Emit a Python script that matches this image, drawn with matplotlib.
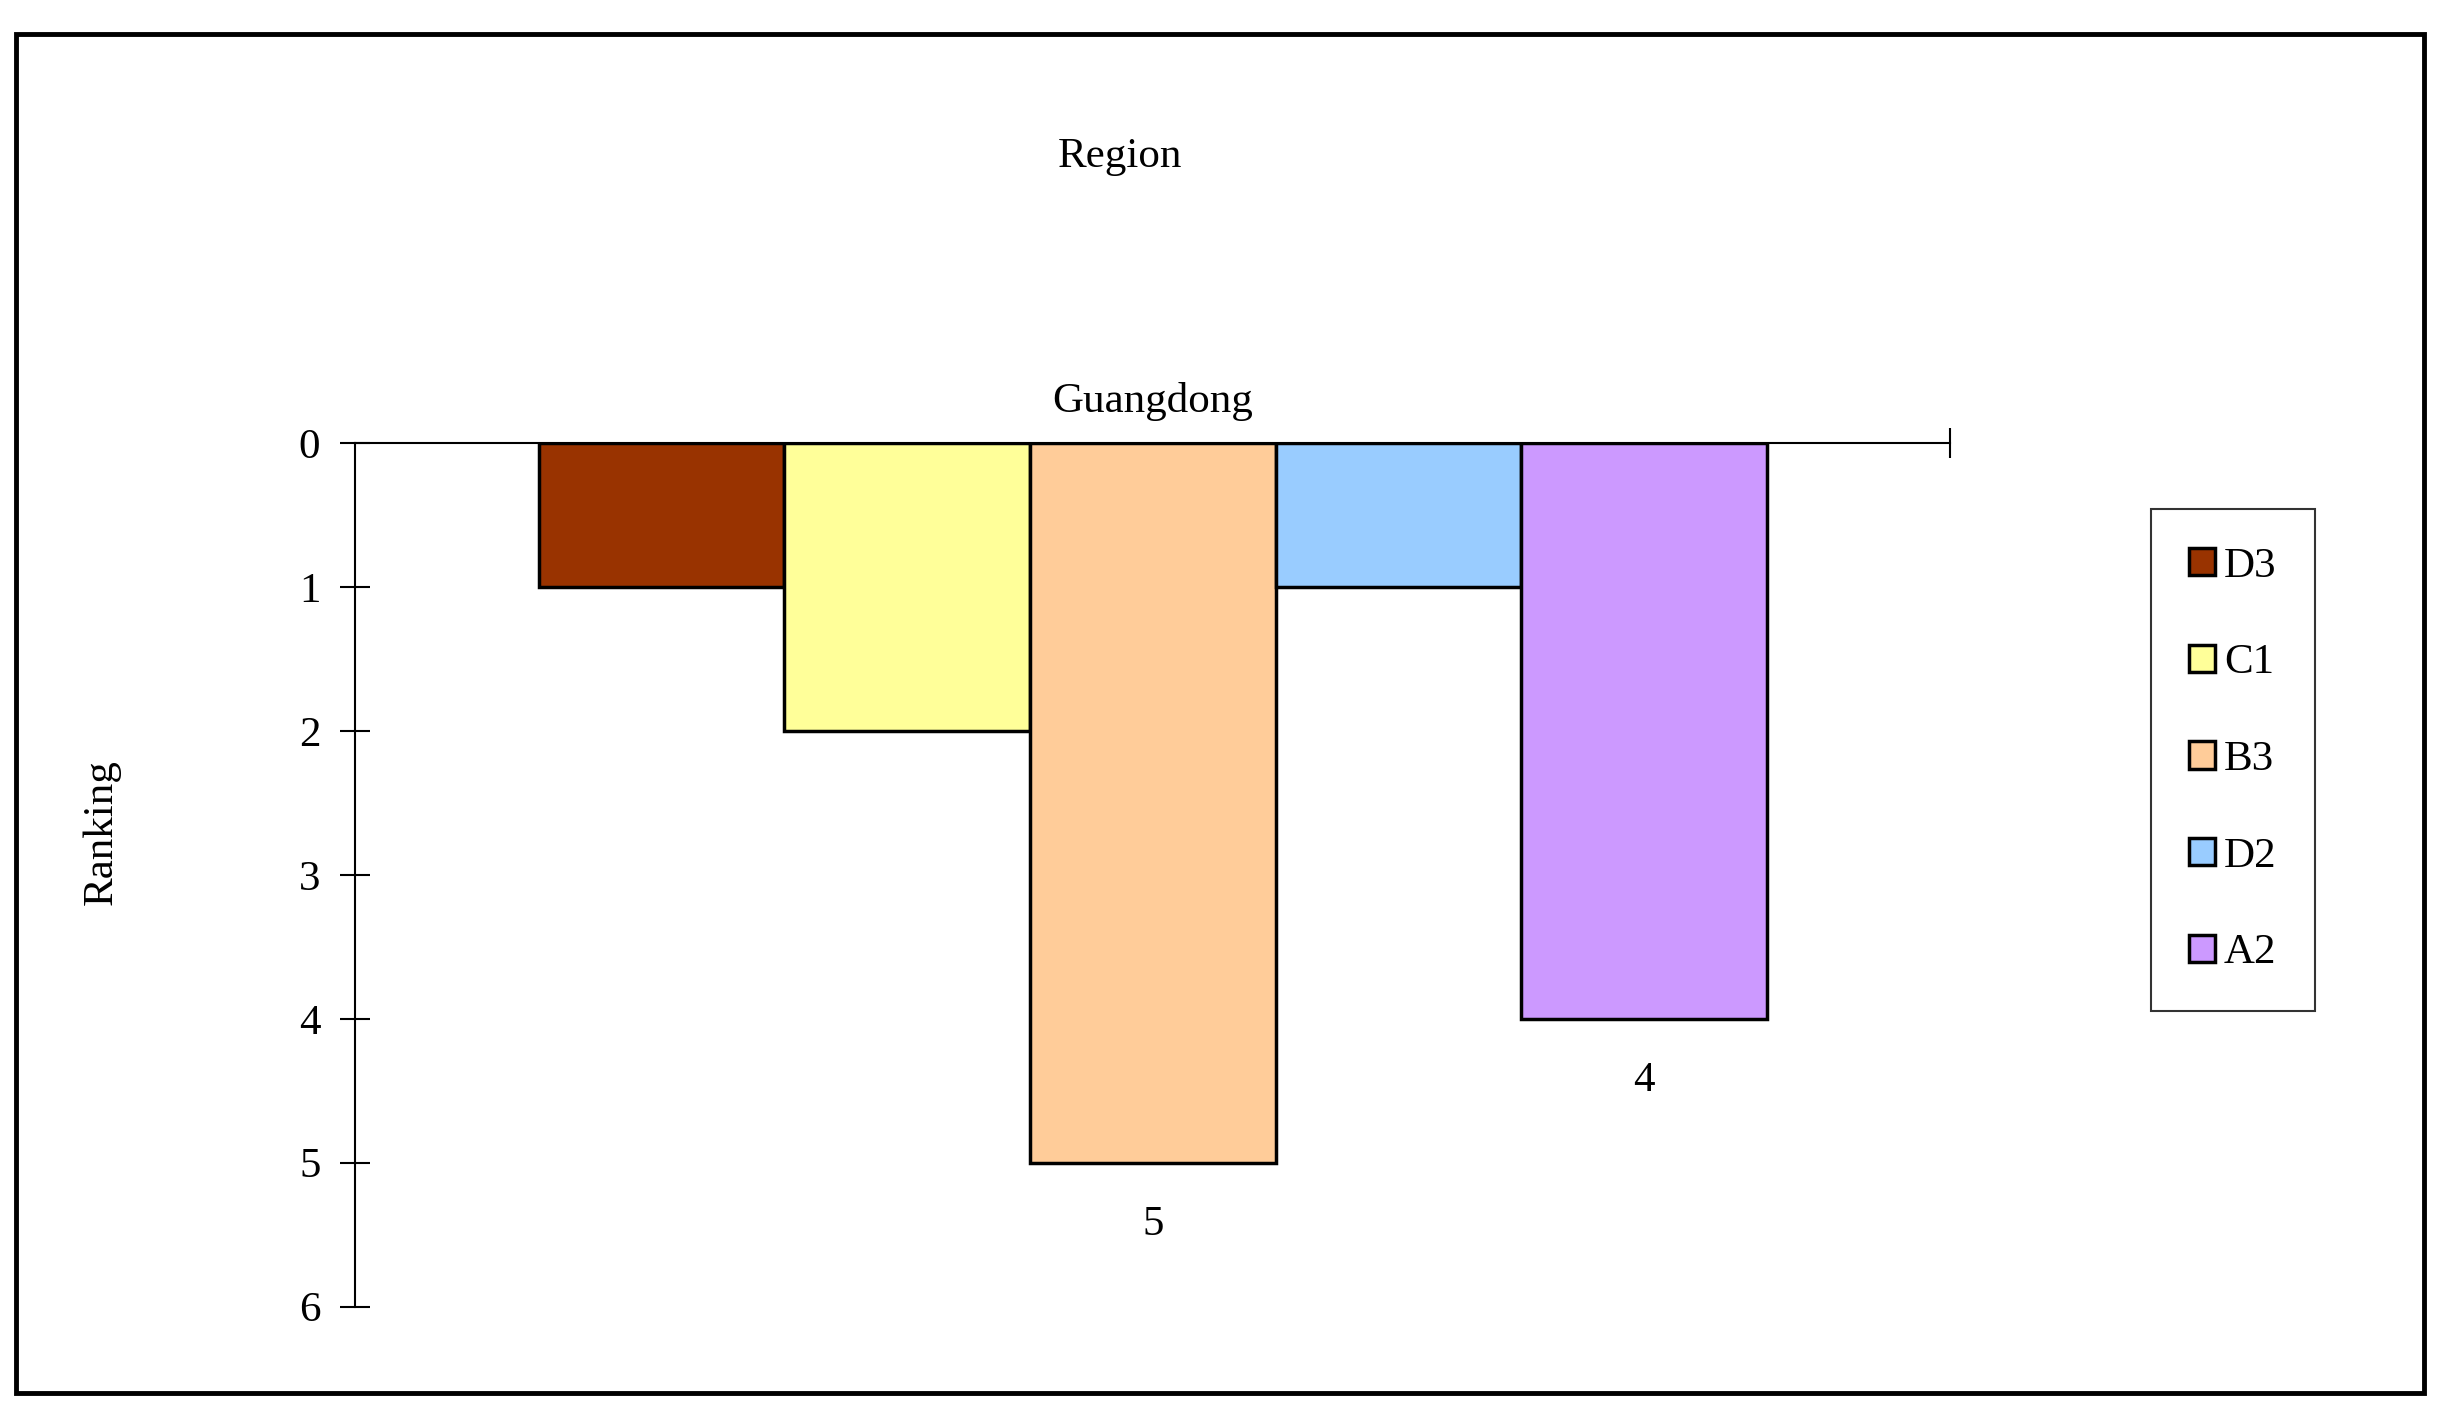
import matplotlib
matplotlib.use("Agg")
import matplotlib.pyplot as plt
from matplotlib.patches import Rectangle

series = ["D3", "C1", "B3", "D2", "A2"]
values = [1, 2, 5, 1, 4]
colors = ["#993300", "#FFFF99", "#FFCC99", "#99CCFF", "#CC99FF"]
shown_labels = [None, None, "5", None, "4"]
category = "Guangdong"
yticks = [0, 1, 2, 3, 4, 5, 6]

plt.rcParams['font.family'] = ['Liberation Serif', 'DejaVu Serif']
fs = 31
fig = plt.figure(figsize=(24.4, 14.1), dpi=100)
fig.patches.append(Rectangle((10/1560, 1-890/901), 1540/1560, 868/901, transform=fig.transFigure,
                             fill=False, lw=3.5, edgecolor='black'))
ax = fig.add_axes([227/1560, 1-835/901, 1020/1560, 552/901])
w = 157/1020
n = len(series)
for i, (s, v, c, lab) in enumerate(zip(series, values, colors, shown_labels)):
    x = (i - (n-1)/2) * w
    ax.bar(x, v, width=w, color=c, edgecolor='black', linewidth=2.5, label=s, zorder=2)
    if lab:
        ax.text(x, v + 0.3, lab, ha='center', va='top', fontsize=fs)
ax.set_xlim(-0.5, 0.5)
ax.set_ylim(6, 0)
ax.set_yticks(yticks)
ax.tick_params(axis='y', direction='inout', length=22, width=1.5, labelsize=fs, pad=14)
ax.set_xticks([0.5])
ax.set_xticklabels([""])
ax.xaxis.tick_top()
ax.tick_params(axis='x', direction='inout', length=22, width=1.5)
for sp in ['right', 'bottom']:
    ax.spines[sp].set_visible(False)
ax.spines['top'].set_linewidth(1.5)
ax.spines['left'].set_linewidth(1.5)
ax.text(0, -0.15, category, ha='center', va='bottom', fontsize=fs)
fig.text(716/1560, 1-100/901, "Region", ha='center', va='center', fontsize=fs)
fig.text(65/1560, 1-532/901, "Ranking", ha='center', va='center', rotation=90, fontsize=fs)
leg = fig.legend(loc='upper left', bbox_to_anchor=(1375/1560, 1-325/901), fontsize=fs,
                 frameon=True, fancybox=False, edgecolor='black', handlelength=0.6,
                 handleheight=0.6, handletextpad=0.2, labelspacing=1.35, borderpad=0.9,
                 borderaxespad=0)
leg.get_frame().set_linewidth(1.5)
for h in leg.legend_handles:
    h.set_linewidth(2.5)
fig.savefig("out.png", dpi=100)
